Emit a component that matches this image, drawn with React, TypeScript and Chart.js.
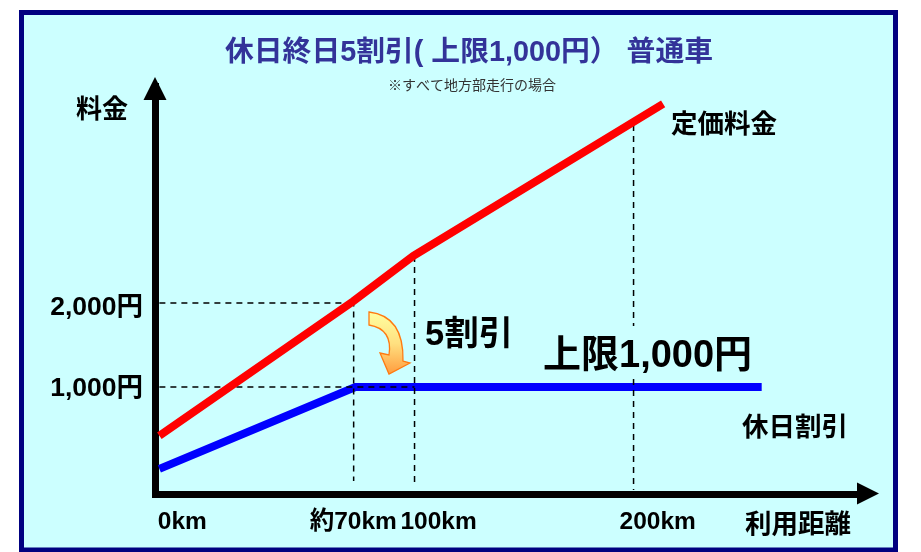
import React, { useEffect, useRef } from "react";
import { Chart, registerables } from "chart.js";

Chart.register(...registerables);

// Axis positions are schematic (the picture is not to scale), so x is in schematic units.
const titleText = "休日終日5割引( 上限1,000円） 普通車";
const noteText = "※すべて地方部走行の場合";
const xTickLabels = ["0km", "約70km", "100km", "200km"];
const xTickValues = [10.5, 88.5, 127.5, 227.5];
const yTickValues = [1000, 1970];
const yTickLabels = ["1,000円", "2,000円"];

const regularX = [0, 88.5, 116, 230];
const regularY = [420, 2020, 2560, 4370];
const holidayX = [0, 89.5, 275];
const holidayY = [25, 1000, 1000];

const dash2000X = [0, 88.7];
const dash2000Y = [2000, 2000];
const dash1000X = [0, 116.5];
const dash1000Y = [1000, 1000];
const dash70X = [88.7, 88.7];
const dash70Y = [2030, -120];
const dash100X = [116.5, 116.5];
const dash100Y = [2560, -170];
const dash200X = [216.5, 216.5, 216.5, 216.5, 216.5];
const dash200Y = [4119, 1726, null, 1095, -226];

const toPts = (xs: number[], ys: (number | null)[]) => xs.map((x, i) => ({ x, y: ys[i] }));
const JP = '"Liberation Sans", "Noto Sans CJK JP"';
const PANEL = "#CCFFFF";
const NAVY = "#000080";

function label(ctx: CanvasRenderingContext2D, t: string, x: number, y: number, size: number, color = "#000", weight = "bold") {
  ctx.font = `${weight} ${size}px ${JP}`;
  ctx.fillStyle = color;
  ctx.textAlign = "left";
  ctx.textBaseline = "middle";
  ctx.fillText(t, x, y);
}

const panelPlugin = {
  id: "panel",
  beforeDraw(chart: any) {
    const { ctx } = chart;
    ctx.save();
    ctx.fillStyle = "#fff";
    ctx.fillRect(0, 0, 921, 552);
    ctx.fillStyle = PANEL;
    ctx.strokeStyle = NAVY;
    ctx.lineWidth = 5;
    ctx.beginPath();
    ctx.rect(21.5, 12.5, 874, 537.5);
    ctx.fill();
    ctx.stroke();
    ctx.restore();
  },
};

const notesPlugin = {
  id: "notes",
  afterDraw(chart: any) {
    const { ctx, chartArea: a } = chart;
    ctx.save();
    ctx.fillStyle = "#000";
    ctx.beginPath();
    ctx.moveTo(a.left, a.top - 10);
    ctx.lineTo(a.left + 11.5, a.top + 13);
    ctx.lineTo(a.left - 11.5, a.top + 13);
    ctx.closePath();
    ctx.fill();
    ctx.beginPath();
    ctx.moveTo(a.right + 10, a.bottom - 0.5);
    ctx.lineTo(a.right - 12, a.bottom - 11.5);
    ctx.lineTo(a.right - 12, a.bottom + 10.5);
    ctx.closePath();
    ctx.fill();

    const g = ctx.createLinearGradient(0, 312, 0, 375);
    g.addColorStop(0, "#FFFFA0");
    g.addColorStop(0.5, "#FFE080");
    g.addColorStop(1, "#FF9A3C");
    ctx.beginPath();
    ctx.moveTo(369, 312);
    ctx.quadraticCurveTo(404, 316, 403, 361);
    ctx.lineTo(410, 363);
    ctx.lineTo(389, 374);
    ctx.lineTo(380, 353);
    ctx.lineTo(389, 355);
    ctx.quadraticCurveTo(393, 329, 369, 325);
    ctx.closePath();
    ctx.fillStyle = g;
    ctx.fill();
    ctx.strokeStyle = "#FF7A10";
    ctx.lineWidth = 1.3;
    ctx.stroke();

    label(ctx, noteText, 388, 86, 14, "#333", "normal");
    label(ctx, "料金", 76, 111, 26);
    label(ctx, "定価料金", 671, 126, 26.5);
    label(ctx, "5割引", 425, 335, 34.5);
    label(ctx, "上限1,000円", 543, 357, 38);
    label(ctx, "休日割引", 742, 429, 26.5);
    label(ctx, "利用距離", 745, 526, 26.5);
    ctx.restore();
  },
};

const dashed = (data: any[]) => ({
  data,
  borderColor: "#000",
  borderWidth: 1.5,
  borderDash: [6, 5],
  pointRadius: 0,
  order: 1,
  spanGaps: false,
});

export default function App() {
  const ref = useRef<HTMLCanvasElement>(null);
  useEffect(() => {
    const chart = new Chart(ref.current!, {
      type: "line",
      data: {
        datasets: [
          { label: "定価料金", data: toPts(regularX, regularY), borderColor: "#FF0000", borderWidth: 8, pointRadius: 0, order: 0, tension: 0 },
          { label: "休日割引", data: toPts(holidayX, holidayY), borderColor: "#0000FF", borderWidth: 8, pointRadius: 0, order: 2, tension: 0 },
          dashed(toPts(dash2000X, dash2000Y)),
          dashed(toPts(dash1000X, dash1000Y)),
          dashed(toPts(dash70X, dash70Y)),
          dashed(toPts(dash100X, dash100Y)),
          dashed(toPts(dash200X, dash200Y)),
        ] as any,
      },
      plugins: [panelPlugin, notesPlugin],
      options: {
        responsive: false,
        animation: false,
        layout: { padding: { left: 17, right: 0, top: 0, bottom: 0 } },
        plugins: {
          legend: { display: false },
          tooltip: { enabled: false },
          title: {
            display: true,
            text: titleText,
            color: "#333399",
            font: { family: JP, size: 28.8, weight: "bold", lineHeight: 1.2 },
            padding: { top: 36, bottom: 16.4 },
          },
        },
        scales: {
          x: {
            type: "linear",
            min: -2,
            max: 324,
            grid: { display: false },
            border: { color: "#000", width: 7 },
            afterFit: (s: any) => { s.height = 58; },
            afterBuildTicks: (s: any) => { s.ticks = xTickValues.map((value) => ({ value })); },
            ticks: {
              autoSkip: false,
              maxRotation: 0,
              padding: 6,
              color: "#000",
              font: { family: JP, size: 24.5, weight: "bold" },
              callback: (_v: any, i: number) => xTickLabels[i],
            },
          },
          y: {
            type: "linear",
            min: -274,
            max: 4571,
            grid: { display: false },
            border: { color: "#000", width: 7 },
            afterFit: (s: any) => { s.width = 138; },
            afterBuildTicks: (s: any) => { s.ticks = yTickValues.map((value) => ({ value })); },
            ticks: {
              autoSkip: false,
              padding: 4,
              labelOffset: 2,
              color: "#000",
              font: { family: JP, size: 26.5, weight: "bold" },
              callback: (_v: any, i: number) => yTickLabels[i],
            },
          },
          rightGap: {
            type: "linear",
            position: "right",
            grid: { display: false },
            border: { display: false },
            ticks: { display: false },
            afterFit: (s: any) => { s.width = 52; },
          },
        },
      } as any,
    });
    return () => chart.destroy();
  }, []);
  return (
    <canvas
      ref={ref}
      width={921}
      height={552}
      style={{ position: "fixed", left: 0, top: 0, width: 921, height: 552 }}
    />
  );
}
